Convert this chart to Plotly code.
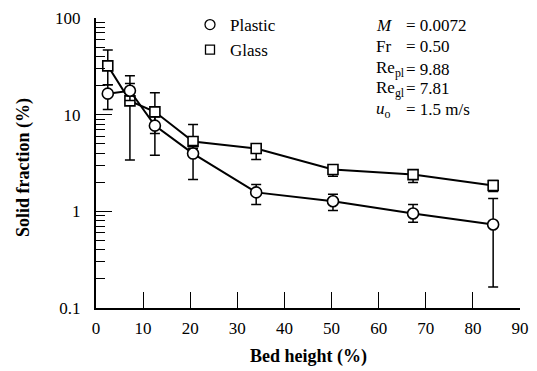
import plotly.graph_objects as go

# Data
bed_height = [2.5, 7.2, 12.5, 20.6, 34.0, 50.3, 67.3, 84.3]

plastic = [16.5, 17.7, 7.7, 3.96, 1.57, 1.27, 0.95, 0.73]
plastic_hi = [20.4, 25.3, 9.5, 4.8, 1.9, 1.5, 1.18, 1.36]
plastic_lo = [11.3, 14.0, 3.8, 2.14, 1.18, 1.02, 0.77, 0.165]

glass = [32.0, 13.9, 10.7, 5.27, 4.46, 2.71, 2.4, 1.85]
glass_hi = [46.8, 21.0, 16.9, 7.9, 4.94, 2.95, 2.6, 2.09]
glass_lo = [20.4, 3.4, 6.4, 4.5, 3.44, 2.3, 1.99, 1.6]

y_tickvals = [0.1, 1, 10, 100]
y_ticktext = ["0.1", "1", "10", "100"]
x_tickvals = [0, 10, 20, 30, 40, 50, 60, 70, 80, 90]

param_names = ["<i>M</i>", "Fr", "Re<sub>pl</sub>", "Re<sub>gl</sub>", "<i>u</i><sub>o</sub>"]
param_values = ["= 0.0072", "= 0.50", "= 9.88", "= 7.81", "= 1.5 m/s"]
param_rows = [25, 47, 69, 89, 110]

FONT = "Liberation Serif"
W, H = 537, 371
ML, MR, MT, MB = 96, 17, 18, 63
PW, PH = W - ML - MR, H - MT - MB

def px_x(p):
    return (p - ML) / PW

def px_y(p):
    return 1 - (p - MT) / PH

def err(vals, hi, lo):
    return ([h - v for v, h in zip(vals, hi)], [v - l for v, l in zip(vals, lo)])

fig = go.Figure()

for name, vals, hi, lo, sym, msize in [
    ("Glass", glass, glass_hi, glass_lo, "square", 10),
    ("Plastic", plastic, plastic_hi, plastic_lo, "circle", 11),
]:
    up, dn = err(vals, hi, lo)
    fig.add_trace(go.Scatter(
        x=bed_height, y=vals, mode="lines",
        line=dict(color="black", width=2),
        showlegend=False, hoverinfo="skip",
        error_y=dict(type="data", symmetric=False, array=up, arrayminus=dn,
                     color="black", thickness=1.5, width=5),
    ))
    fig.add_trace(go.Scatter(
        x=bed_height, y=vals, mode="markers",
        marker=dict(symbol=sym, size=msize, color="white",
                    line=dict(color="black", width=1.6)),
        showlegend=False,
    ))

# Legend entries (marker only)
for name, sym, msize in [("Plastic", "circle", 10), ("Glass", "square", 9)]:
    fig.add_trace(go.Scatter(
        x=[None], y=[None], mode="markers", name=name,
        marker=dict(symbol=sym, size=msize, color="white",
                    line=dict(color="black", width=1.3)),
    ))

for n, v, ypos in zip(param_names, param_values, param_rows):
    fig.add_annotation(text=n, xref="paper", yref="paper",
                       x=px_x(374), y=px_y(ypos),
                       xanchor="left", yanchor="middle", showarrow=False,
                       font=dict(family=FONT, size=17, color="black"))
    fig.add_annotation(text=v, xref="paper", yref="paper",
                       x=px_x(404), y=px_y(ypos),
                       xanchor="left", yanchor="middle", showarrow=False,
                       font=dict(family=FONT, size=17, color="black"))

# Axis titles
fig.add_annotation(text="<b>Bed height (%)</b>", xref="paper", yref="paper",
                   x=px_x(308), y=px_y(356), xanchor="center", yanchor="middle",
                   showarrow=False, font=dict(family=FONT, size=18, color="black"))
fig.add_annotation(text="<b>Solid fraction (%)</b>", xref="paper", yref="paper",
                   x=px_x(23), y=px_y(168), xanchor="center", yanchor="middle",
                   textangle=-90, showarrow=False,
                   font=dict(family=FONT, size=18, color="black"))

fig.update_layout(
    width=W, height=H,
    margin=dict(l=ML, r=MR, t=MT, b=MB, autoexpand=False),
    paper_bgcolor="white", plot_bgcolor="white",
    font=dict(family=FONT, size=17, color="black"),
    legend=dict(x=px_x(190), y=px_y(7), xanchor="left", yanchor="top",
                bgcolor="rgba(0,0,0,0)", font=dict(family=FONT, size=17),
                itemwidth=30, tracegroupgap=0),
    showlegend=True,
)

fig.update_xaxes(
    range=[0, 90], tickvals=x_tickvals, ticks="inside", ticklen=16,
    tickwidth=1.3, tickcolor="black", showline=True, linecolor="black",
    linewidth=2, showgrid=False, zeroline=False, mirror=False,
    ticklabelstandoff=4, tickfont=dict(family=FONT, size=17),
)
fig.update_yaxes(
    type="log", range=[-1, 2], tickvals=y_tickvals, ticktext=y_ticktext,
    ticks="inside", ticklen=16, tickwidth=1.3, tickcolor="black",
    showline=True, linecolor="black", linewidth=2, showgrid=False,
    zeroline=False, mirror=False, ticklabelstandoff=10,
    tickfont=dict(family=FONT, size=17),
    minor=dict(ticks="inside", ticklen=9, tickwidth=1.1, tickcolor="black",
               dtick="D1", showgrid=False),
)

fig.write_html("out.html")
